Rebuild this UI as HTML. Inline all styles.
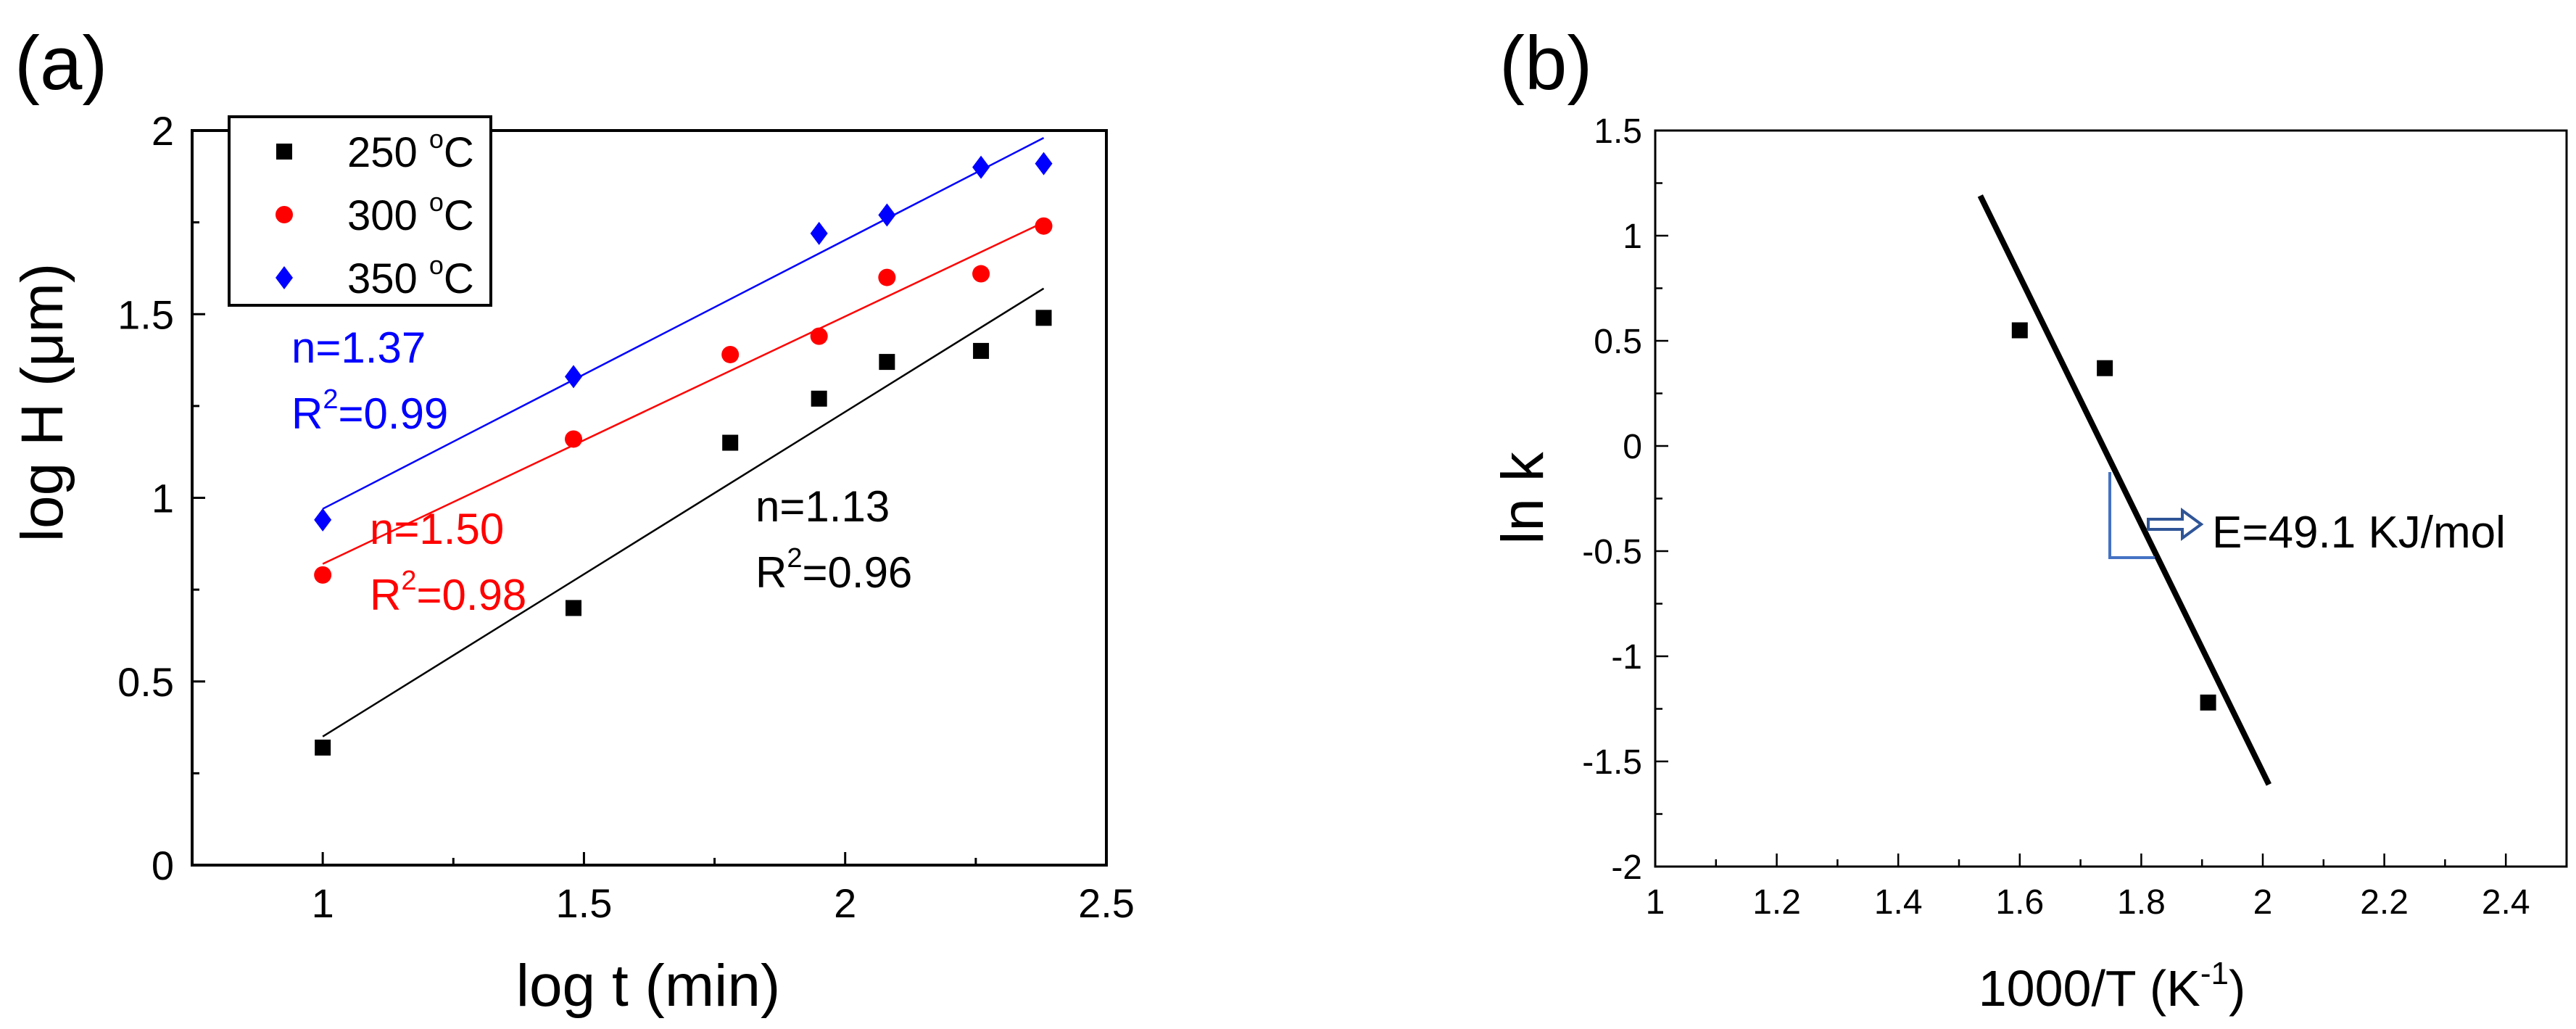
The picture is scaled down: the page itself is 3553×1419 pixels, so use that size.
<!DOCTYPE html>
<html><head><meta charset="utf-8"><style>
html,body{margin:0;padding:0;background:#fff;}
svg{display:block;font-family:"Liberation Sans",sans-serif;}
</style></head><body>
<svg id="fig" width="3553" height="1419" viewBox="0 0 3553 1419" xmlns="http://www.w3.org/2000/svg">
<text x="20" y="123" font-size="105">(a)</text>
<text x="2068" y="123" font-size="105">(b)</text>
<g id="pa"></g>
<g id="pb"></g>
</svg>
<script>
const NS="http://www.w3.org/2000/svg";
// Panel (a) data
const aTicksX=[1,1.5,2,2.5];
const aTickLabelsX=["1","1.5","2","2.5"];
const aTicksY=[0,0.5,1,1.5,2];
const aTickLabelsY=["0","0.5","1","1.5","2"];
const blackX=[1,1.48,1.78,1.95,2.08,2.26,2.38];
const blackY=[0.32,0.70,1.15,1.27,1.37,1.40,1.49];
const redX=[1,1.48,1.78,1.95,2.08,2.26,2.38];
const redY=[0.79,1.16,1.39,1.44,1.60,1.61,1.74];
const blueX=[1,1.48,1.95,2.08,2.26,2.38];
const blueY=[0.94,1.33,1.72,1.77,1.90,1.91];
const blackFitX=[1,2.38]; const blackFitY=[0.35,1.57];
const redFitX=[1,2.38]; const redFitY=[0.82,1.75];
const blueFitX=[1,2.38]; const blueFitY=[0.97,1.98];
// Panel (b) data
const bTicksX=[1,1.2,1.4,1.6,1.8,2,2.2,2.4];
const bTickLabelsX=["1","1.2","1.4","1.6","1.8","2","2.2","2.4"];
const bTicksY=[-2,-1.5,-1,-0.5,0,0.5,1,1.5];
const bTickLabelsY=["-2","-1.5","-1","-0.5","0","0.5","1","1.5"];
const kX=[1.6,1.74,1.91];
const kY=[0.55,0.37,-1.22];
const kFitX=[1.535,2.01]; const kFitY=[1.19,-1.61];

function el(tag,attrs,parent,text){const e=document.createElementNS(NS,tag);for(const k in attrs)e.setAttribute(k,attrs[k]);if(text!==undefined)e.textContent=text;parent.appendChild(e);return e;}

// axes a
const ax=v=>265+(v-0.75)/(1.75)*(1526-265);
const ay=v=>1193-v/2*(1193-180);
const bx=v=>2283+(v-1)/1.5*(3540-2283);
const by=v=>1195-(v+2)/3.5*(1195-180);

const pa=document.getElementById('pa');
const fa=el('rect',{x:265,y:180,width:1261,height:1013,fill:'none',stroke:'#000','stroke-width':4},pa);

for(let v=0.75;v<=2.5001;v+=0.25){const major=Math.abs(v*2-Math.round(v*2))<1e-6;const t=el('line',{x1:ax(v),x2:ax(v),y1:1193,y2:1193-(major?18:10),stroke:'#000','stroke-width':3},pa);}
for(let v=0;v<=2.0001;v+=0.25){const major=Math.abs(v*2-Math.round(v*2))<1e-6;const t=el('line',{x1:265,x2:265+(major?18:10),y1:ay(v),y2:ay(v),stroke:'#000','stroke-width':3},pa);}
aTicksX.forEach((v,i)=>{const t=el('text',{x:ax(v),y:1265,'font-size':56,'text-anchor':'middle'},pa,aTickLabelsX[i]);});
aTicksY.forEach((v,i)=>{const t=el('text',{x:240,y:ay(v)+20,'font-size':56,'text-anchor':'end'},pa,aTickLabelsY[i]);});
let t;
t=el('text',{x:894,y:1387,'font-size':82,'text-anchor':'middle'},pa,'log t (min)');
t=el('text',{x:0,y:0,'font-size':82,'text-anchor':'middle',transform:'translate(86,555) rotate(-90)'},pa,'log H (μm)');

function fit(g,xs,ys,X,Y,c,w,name){const l=el('line',{x1:X(xs[0]),y1:Y(ys[0]),x2:X(xs[1]),y2:Y(ys[1]),stroke:c,'stroke-width':w},g);}
fit(pa,blackFitX,blackFitY,ax,ay,'#000',2.5,'fit-line-250');
fit(pa,redFitX,redFitY,ax,ay,'#f00',2.5,'fit-line-300');
fit(pa,blueFitX,blueFitY,ax,ay,'#00f',2.5,'fit-line-350');
function sq(g,x,y,s,c){return el('rect',{x:x-s/2,y:y-s/2,width:s,height:s,fill:c},g);}
function ci(g,x,y,r,c){return el('circle',{cx:x,cy:y,r:r,fill:c},g);}
function di(g,x,y,r,c){return el('polygon',{points:`${x},${y-r} ${x+r*0.75},${y} ${x},${y+r} ${x-r*0.75},${y}`,fill:c},g);}
blackX.forEach((v,i)=>{const m=sq(pa,ax(v),ay(blackY[i]),22,'#000');});
redX.forEach((v,i)=>{const m=ci(pa,ax(v),ay(redY[i]),12,'#f00');});
blueX.forEach((v,i)=>{const m=di(pa,ax(v),ay(blueY[i]),16,'#00f');});
// legend
const lg=el('g',{},pa);
el('rect',{x:316,y:161,width:361,height:260,fill:'#fff',stroke:'#000','stroke-width':4},lg);
const le=[['#000','sq','250'],['#f00','ci','300'],['#00f','di','350']];
le.forEach((d,i)=>{const y=209+i*87;const g=el('g',{},lg);
 if(d[1]=='sq')sq(g,392,y,22,d[0]);else if(d[1]=='ci')ci(g,392,y,12,d[0]);else di(g,392,y,16,d[0]);
 const tx=el('text',{x:479,y:y+21,'font-size':58},g,d[2]+' ');el('tspan',{'font-size':36,dy:-26},tx,'o');el('tspan',{dy:26},tx,'C');});
function ann(g,x,y,c,n,r,name){const a=el('g',{},g);
 el('text',{x:x,y:y,'font-size':60,fill:c},a,'n='+n);const tx=el('text',{x:x,y:y+91,'font-size':60,fill:c},a,'R');el('tspan',{'font-size':38,dy:-28},tx,'2');el('tspan',{dy:28},tx,'='+r);}
ann(pa,402,500,'#00f','1.37','0.99','annotation-350');
ann(pa,510,750,'#f00','1.50','0.98','annotation-300');
ann(pa,1042,719,'#000','1.13','0.96','annotation-250');

// panel b
const pb=document.getElementById('pb');
t=el('rect',{x:2283,y:180,width:1257,height:1015,fill:'none',stroke:'#000','stroke-width':3},pb);
for(let k=0;k<=15;k++){const v=1+k*0.1;const major=k%2==0;t=el('line',{x1:bx(v),x2:bx(v),y1:1195,y2:1195-(major?18:10),stroke:'#000','stroke-width':2.5},pb);}
for(let k=0;k<=14;k++){const v=-2+k*0.25;const major=k%2==0;t=el('line',{x1:2283,x2:2283+(major?18:10),y1:by(v),y2:by(v),stroke:'#000','stroke-width':2.5},pb);}
bTicksX.forEach((v,i)=>{const t=el('text',{x:bx(v),y:1260,'font-size':48,'text-anchor':'middle'},pb,bTickLabelsX[i]);});
bTicksY.forEach((v,i)=>{const t=el('text',{x:2265,y:by(v)+17,'font-size':48,'text-anchor':'end'},pb,bTickLabelsY[i]);});
t=el('text',{x:2913,y:1387,'font-size':70,'text-anchor':'middle'},pb,'1000/T (K');el('tspan',{'font-size':44,dy:-30},t,'-1');el('tspan',{dy:30},t,')');
t=el('text',{x:0,y:0,'font-size':82,'text-anchor':'middle',transform:'translate(2128,687) rotate(-90)'},pb,'ln k');
fit(pb,kFitX,kFitY,bx,by,'#000',8,'fit-line-k');
kX.forEach((v,i)=>{const m=sq(pb,bx(v),by(kY[i]),22,'#000');});
const br=el('g',{},pb);
el('polyline',{points:'2910,651 2910,769 2972,769',fill:'none',stroke:'#4472c4','stroke-width':4},br);
el('polygon',{points:'2963,716 3010,716 3010,704 3036,723 3010,742 3010,730 2963,730',fill:'#fff',stroke:'#2f5597','stroke-width':4},br);
el('text',{x:3051,y:755,'font-size':62},br,'E=49.1 KJ/mol');
</script>
</body></html>
